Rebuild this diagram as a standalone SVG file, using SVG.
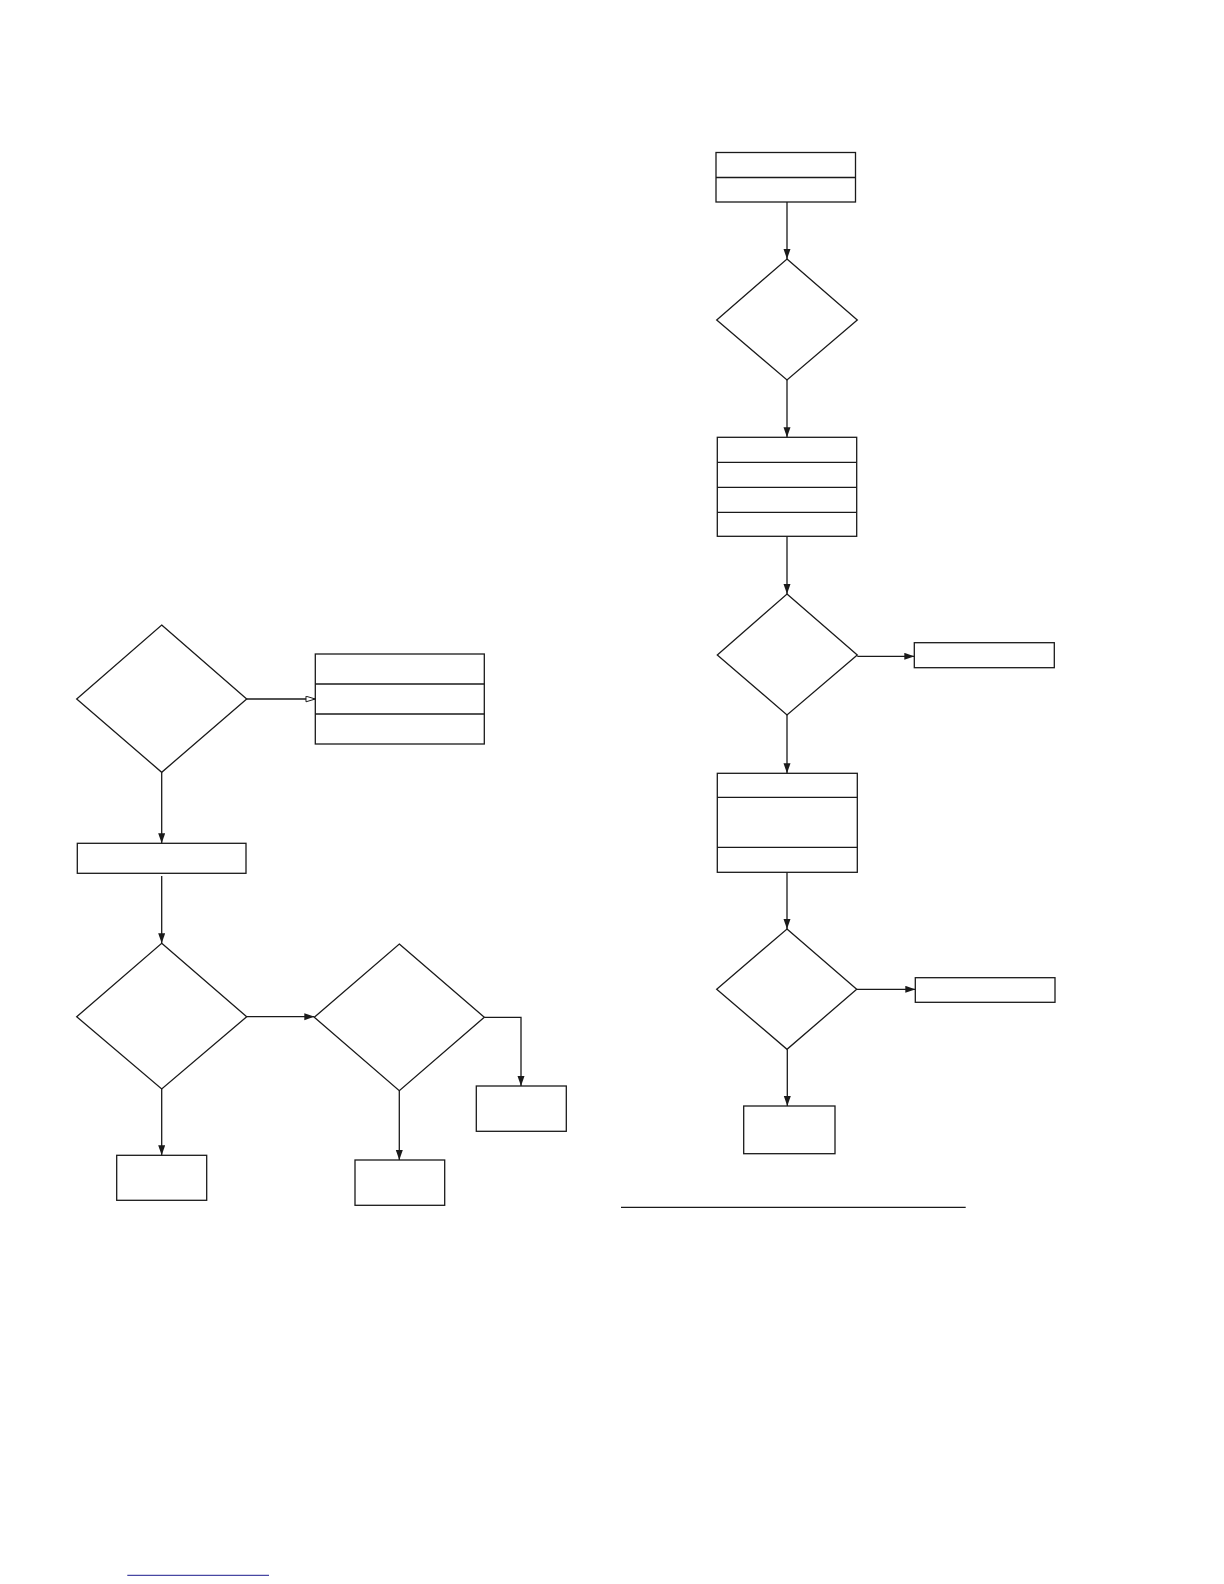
<svg xmlns="http://www.w3.org/2000/svg" width="1224" height="1584" viewBox="0 0 1224 1584">
<style>
.n{fill:#fff;stroke:#1a1a1a;stroke-width:1.3}
.d{fill:none;stroke:#1a1a1a;stroke-width:1.3}
.c{fill:none;stroke:#1a1a1a;stroke-width:1.3}
</style>
<defs>
<marker id="a" markerUnits="userSpaceOnUse" markerWidth="10" markerHeight="8" refX="10" refY="3.5" orient="auto">
<path d="M0,0 L10,3.5 L0,7 z" fill="#1a1a1a"/>
</marker>
<marker id="o" markerUnits="userSpaceOnUse" markerWidth="11" markerHeight="8" refX="10" refY="3.5" orient="auto">
<path d="M0.7,0.7 L10,3.5 L0.7,6.3 z" fill="#fff" stroke="#1a1a1a" stroke-width="1"/>
</marker>
</defs>
<rect width="1224" height="1584" fill="#fff"/>

<!-- right column -->
<g id="r_box1"><rect class="n" x="716" y="152.5" width="139.5" height="49.5"/><line class="d" x1="716" y1="177.5" x2="855.5" y2="177.5"/></g>
<g id="r_dec1"><polygon class="d" points="787,259 857.3,320 787,380 716.7,320"/></g>
<g id="r_box2"><rect class="n" x="717.3" y="437.3" width="139.4" height="99"/><line class="d" x1="717.3" y1="462.3" x2="856.7" y2="462.3"/><line class="d" x1="717.3" y1="487.3" x2="856.7" y2="487.3"/><line class="d" x1="717.3" y1="512.3" x2="856.7" y2="512.3"/></g>
<g id="r_dec2"><polygon class="d" points="787,594 857.3,655 787,715 717.3,655"/></g>
<g id="r_out2"><rect class="n" x="914.3" y="642.7" width="140" height="25"/></g>
<g id="r_box3"><rect class="n" x="717.3" y="773.3" width="140" height="99"/><line class="d" x1="717.3" y1="797.3" x2="857.3" y2="797.3"/><line class="d" x1="717.3" y1="847.3" x2="857.3" y2="847.3"/></g>
<g id="r_dec3"><polygon class="d" points="787,929 856.7,989.3 787,1049.3 716.7,989.3"/></g>
<g id="r_out3"><rect class="n" x="915.3" y="977.7" width="139.7" height="24.6"/></g>
<g id="r_end"><rect class="n" x="743.7" y="1106" width="91.3" height="47.7"/></g>

<!-- left column -->
<g id="l_dec1"><polygon class="d" points="161.7,625 246.7,699 161.7,772.3 76.7,699"/></g>
<g id="l_list"><rect class="n" x="315.3" y="654" width="169" height="90"/><line class="d" x1="315.3" y1="684" x2="484.3" y2="684"/><line class="d" x1="315.3" y1="714" x2="484.3" y2="714"/></g>
<g id="l_box"><rect class="n" x="77.3" y="843.3" width="168.7" height="30"/></g>
<g id="l_dec2"><polygon class="d" points="161.7,943.3 246.7,1016.7 161.7,1089 76.7,1016.7"/></g>
<g id="l_dec3"><polygon class="d" points="399.3,944 484.3,1017.3 399.3,1090.7 314.3,1017.3"/></g>
<g id="l_end1"><rect class="n" x="116.7" y="1155.3" width="90" height="45"/></g>
<g id="l_end2"><rect class="n" x="355" y="1160" width="89.7" height="45.3"/></g>
<g id="l_end3"><rect class="n" x="476.3" y="1086" width="90" height="45.3"/></g>

<g id="connectors">
<line class="c" x1="787" y1="202" x2="787" y2="259" marker-end="url(#a)"/>
<line class="c" x1="787" y1="380" x2="787" y2="437.3" marker-end="url(#a)"/>
<line class="c" x1="787" y1="536.3" x2="787" y2="594" marker-end="url(#a)"/>
<line class="c" x1="857.3" y1="656.3" x2="914.3" y2="656.3" marker-end="url(#a)"/>
<line class="c" x1="787" y1="715" x2="787" y2="773.3" marker-end="url(#a)"/>
<line class="c" x1="787" y1="872.3" x2="787" y2="929" marker-end="url(#a)"/>
<line class="c" x1="856.7" y1="989.3" x2="915.3" y2="989.3" marker-end="url(#a)"/>
<line class="c" x1="787.3" y1="1049.3" x2="787.3" y2="1106" marker-end="url(#a)"/>
<line class="c" x1="246.7" y1="699" x2="315.3" y2="699" marker-end="url(#o)"/>
<line class="c" x1="161.7" y1="772.3" x2="161.7" y2="843.3" marker-end="url(#a)"/>
<line class="c" x1="161.7" y1="876" x2="161.7" y2="943.3" marker-end="url(#a)"/>
<line class="c" x1="246.7" y1="1016.7" x2="314.3" y2="1016.7" marker-end="url(#a)"/>
<line class="c" x1="161.7" y1="1089" x2="161.7" y2="1155.3" marker-end="url(#a)"/>
<line class="c" x1="399.3" y1="1090.7" x2="399.3" y2="1160" marker-end="url(#a)"/>
<polyline class="c" points="484.3,1017.3 521,1017.3 521,1086" marker-end="url(#a)"/>
</g>

<line x1="621" y1="1207.3" x2="965.7" y2="1207.3" stroke="#1a1a1a" stroke-width="1.2"/>
<line x1="127.3" y1="1575.3" x2="269" y2="1575.3" stroke="#1a1a8c" stroke-width="1"/>
</svg>
